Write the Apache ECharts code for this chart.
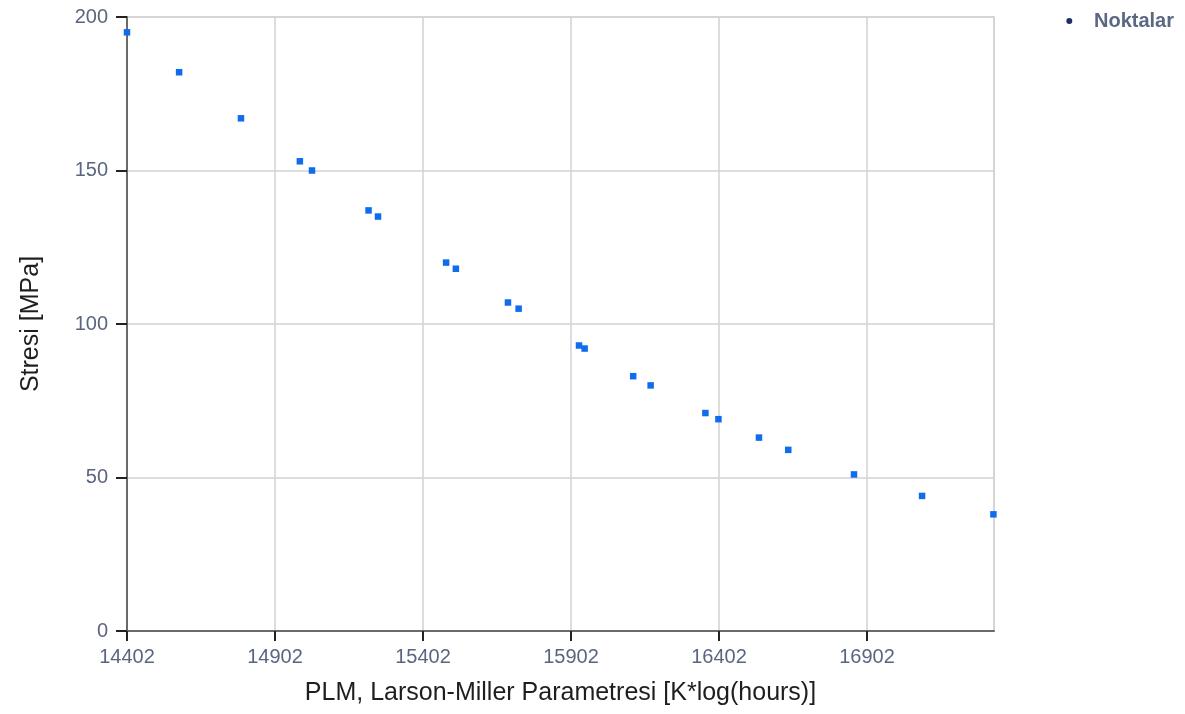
<!DOCTYPE html>
<html>
<head>
<meta charset="utf-8">
<script src="https://cdn.jsdelivr.net/npm/echarts@6/dist/echarts.min.js"></script>
<style>
  html, body { margin: 0; padding: 0; background: #fff; }
  #chart { width: 1185px; height: 714px; }
</style>
</head>
<body>
<div id="chart"></div>
<script>
// PLM values (x) and stress values (y)
var plmValues = [14402, 14578, 14787, 14986, 15027, 15218, 15250, 15480, 15513, 15689, 15725,
  15929, 15948, 16112, 16171, 16356, 16400, 16537, 16636, 16858, 17088, 17329];
var stressValues = [195, 182, 167, 153, 150, 137, 135, 120, 118, 107, 105,
  93, 92, 83, 80, 71, 69, 63, 59, 51, 44, 38];
var seriesName = 'Noktalar';

var chart = echarts.init(document.getElementById('chart'));

var points = plmValues.map(function (x, i) {
  return [x, stressValues[i]];
});

var labelColor = '#5a6580';
var gridColor = '#d2d2d2';

var option = {
  animation: false,
  backgroundColor: '#fff',
  grid: {
    left: 127,
    right: 191,
    top: 17,
    bottom: 83,
    show: true,
    borderColor: gridColor,
    borderWidth: 1.5
  },
  legend: {
    right: 6,
    top: 6,
    icon: 'circle',
    itemWidth: 6,
    itemHeight: 6,
    formatter: function (name) {
      return '   ' + name;
    },
    textStyle: {
      color: '#5c6882',
      fontFamily: 'Liberation Sans',
      fontWeight: 'bold',
      fontSize: 20
    },
    data: [{ name: seriesName, itemStyle: { color: '#1d2f6b', opacity: 1 } }]
  },
  xAxis: {
    type: 'value',
    min: 14402,
    max: 17331,
    interval: 500,
    name: 'PLM, Larson-Miller Parametresi [K*log(hours)]',
    nameLocation: 'middle',
    nameGap: 50,
    nameTextStyle: {
      color: '#1e1e1e',
      fontFamily: 'Liberation Sans',
      fontSize: 25
    },
    axisLine: { show: true, lineStyle: { color: '#6a6a6a', width: 2 } },
    axisTick: { show: true, length: 10, lineStyle: { color: '#222', width: 2 } },
    axisLabel: {
      margin: 16,
      showMaxLabel: false,
      color: labelColor,
      fontFamily: 'Liberation Sans',
      fontSize: 20,
      formatter: function (v) { return String(v); }
    },
    splitLine: { show: true, lineStyle: { color: gridColor, width: 1.5 } }
  },
  yAxis: {
    type: 'value',
    min: 0,
    max: 200,
    interval: 50,
    name: 'Stresi [MPa]',
    nameLocation: 'middle',
    nameGap: 83,
    nameTextStyle: {
      color: '#1e1e1e',
      fontFamily: 'Liberation Sans',
      fontSize: 25
    },
    axisLine: { show: true, lineStyle: { color: '#6a6a6a', width: 2 } },
    axisTick: { show: true, length: 11, lineStyle: { color: '#222', width: 2 } },
    axisLabel: {
      margin: 19,
      color: labelColor,
      fontFamily: 'Liberation Sans',
      fontSize: 20
    },
    splitLine: { show: true, lineStyle: { color: gridColor, width: 1.5 } }
  },
  series: [
    {
      name: seriesName,
      type: 'scatter',
      symbol: 'rect',
      symbolSize: 6.5,
      itemStyle: { color: '#0f6ded', opacity: 1 },
      data: points
    }
  ]
};

chart.setOption(option);
</script>
</body>
</html>
